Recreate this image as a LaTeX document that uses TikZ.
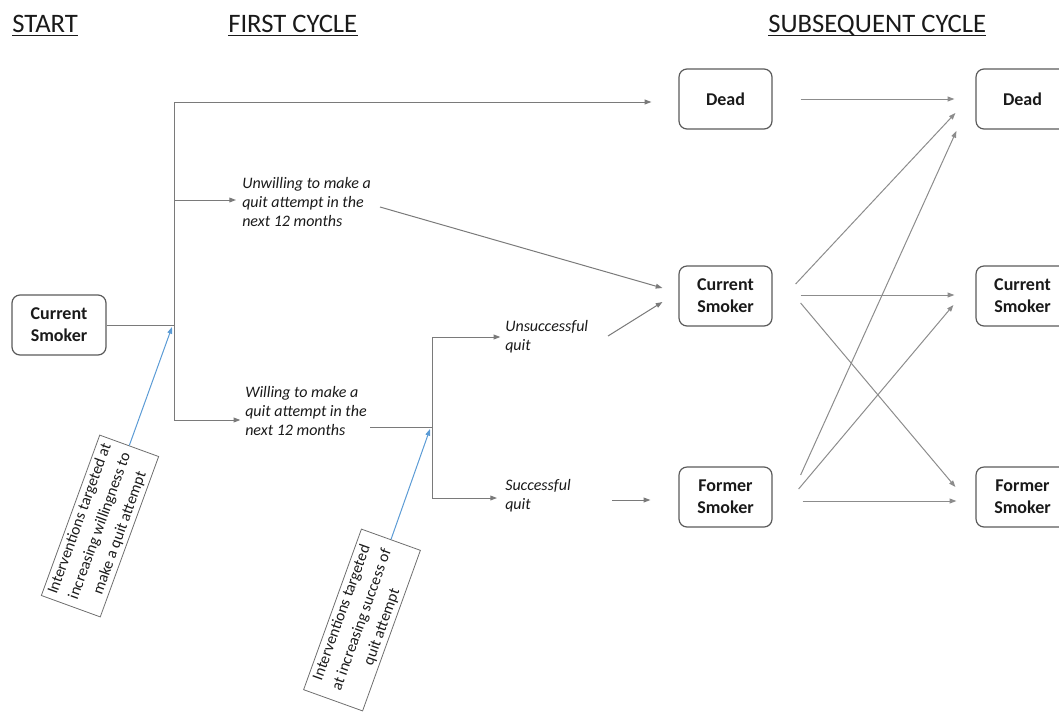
\documentclass[tikz,border=0pt]{standalone}
\usepackage{fontspec}
\setmainfont{Carlito}
\usetikzlibrary{arrows.meta,calc}
\definecolor{boxgray}{HTML}{5A5A5A}
\definecolor{arrgray}{HTML}{7A7A7A}
\definecolor{arrlight}{HTML}{8C8C8C}
\definecolor{notegray}{HTML}{6E6E6E}
\definecolor{offblue}{HTML}{5B9BD5}
\definecolor{txt}{HTML}{1A1A1A}
\begin{document}
\begin{tikzpicture}[x=0.75pt,y=-0.75pt,
  box/.style={draw=boxgray, line width=0.9pt, rounded corners=6pt, minimum width=69.75pt, minimum height=45pt, align=center, inner sep=0pt, text=txt, font=\fontsize{13.5}{16.5}\selectfont\bfseries},
  lbl/.style={align=left, inner sep=0pt, anchor=west, text=txt, font=\fontsize{12}{14.3}\selectfont\itshape},
  arr/.style={draw=arrgray, line width=0.75pt, -{Triangle[length=5pt,width=3.6pt]}},
  arrr/.style={draw=arrlight, line width=0.75pt, -{Triangle[length=5pt,width=3.6pt]}},
  ln/.style={draw=arrgray, line width=0.75pt},
  note/.style={draw=notegray, line width=0.6pt, align=center, inner sep=1pt, text=txt, font=\fontsize{11.8}{16}\selectfont, minimum width=128pt, minimum height=47pt},
  bluearr/.style={draw=offblue, line width=0.75pt, -{Triangle[length=5pt,width=3.6pt]}},
  hdr/.style={anchor=base west, inner sep=0pt, text=txt, font=\fontsize{20}{24}\selectfont}
]
\useasboundingbox (0,0) rectangle (1059,711);
\clip (0,0) rectangle (1059,711);

% headers
\node[hdr] (h1) at (12,32) {START};
\node[hdr] (h2) at (228,32) {FIRST CYCLE};
\node[hdr] (h3) at (768,32) {SUBSEQUENT CYCLE};
\foreach \h in {h1,h2,h3}{
  \draw[txt, line width=1.2pt] ([yshift=-2.6pt]\h.base west) -- ([yshift=-2.6pt]\h.base east);
}

% boxes
\node[box, minimum width=70.5pt] (cs) at (59,325) {Current\\Smoker};
\node[box] (dead1) at (725.5,99) {Dead};
\node[box] (cur1) at (725.5,296) {Current\\Smoker};
\node[box] (for1) at (725.5,497) {Former\\Smoker};
\node[box] (dead2) at (1022.5,99) {Dead};
\node[box] (cur2) at (1022.5,296) {Current\\Smoker};
\node[box] (for2) at (1022.5,497) {Former\\Smoker};

% labels
\node[lbl] (unw) at (242,202) {Unwilling to make a\\quit attempt in the\\next 12 months};
\node[lbl] (wil) at (245,411) {Willing to make a\\quit attempt in the\\next 12 months};
\node[lbl] (uns) at (505,337) {Unsuccessful\\quit};
\node[lbl] (suc) at (505,496) {Successful\\quit};

% intervention notes
\node[note, rotate=70] (n1) at (100,526)
  {Interventions targeted at\\increasing willingness to\\make a quit attempt};
\node[note, rotate=70.2] (n2) at (362,620)
  {Interventions targeted\\at increasing success of\\quit attempt};

% first junction
\coordinate (j1) at (174,325);
\coordinate (j1t) at (174,102);
\coordinate (j1u) at (174,200);
\coordinate (j1b) at (174,420);
\draw[ln] (cs.east) -- (j1);
\draw[ln] (j1t) -- (j1b);
\draw[arr] (j1t) -- ($(dead1.west)+(-27,3)$);
\draw[arr, shorten >=4.5pt] (j1u) -- (unw.west|-j1u);
\draw[arr, shorten >=3.5pt] (j1b) -- (wil.west|-j1b);
\draw[arr] ($(unw.west)+(138,5)$) -- ($(cur1.west)+(-16,-8)$);

% second junction
\coordinate (j2) at (432,427);
\coordinate (j2t) at (432,337);
\coordinate (j2b) at (432,498);
\draw[ln] ($(wil.west)+(125,16)$) -- (j2);
\draw[ln] (j2t) -- (j2b);
\draw[arr, shorten >=3.5pt] (j2t) -- (uns.west|-j2t);
\draw[arr, shorten >=6pt] (j2b) -- (suc.west|-j2b);
\draw[arr] ($(uns.west)+(103,-1)$) -- ($(cur1.west)+(-16,6)$);
\draw[arr] ($(suc.west)+(107,4)$) -- ($(for1.west)+(-28,3)$);

% blue intervention arrows
\coordinate (b1) at (172,327);
\coordinate (b2) at (430,429);
\draw[bluearr] (n1.east) -- (b1);
\draw[bluearr] (n2.east) -- (b2);

% subsequent cycle
\draw[arrr] ($(dead1.east)+(28,0)$) -- ($(dead2.west)+(-21,0)$);
\draw[arrr] ($(cur1.east)+(23,-12)$) -- ($(dead2.west)+(-20,14)$);
\draw[arrr] ($(for1.east)+(28,-22)$) -- ($(dead2.west)+(-19,32)$);
\draw[arrr] ($(cur1.east)+(28,-1)$) -- ($(cur2.west)+(-21,-1)$);
\draw[arrr] ($(cur1.east)+(28,7)$) -- ($(for2.west)+(-20,-10)$);
\draw[arrr] ($(for1.east)+(26,-8)$) -- ($(cur2.west)+(-22,9)$);
\draw[arrr] ($(for1.east)+(30,4)$) -- ($(for2.west)+(-19,4)$);
\end{tikzpicture}
\end{document}
